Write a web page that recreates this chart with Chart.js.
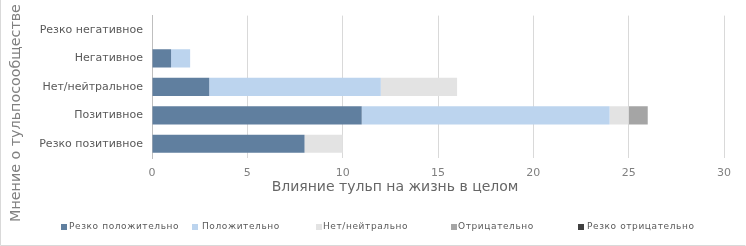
<!DOCTYPE html>
<html>
<head>
<meta charset="utf-8">
<script src="https://cdn.jsdelivr.net/npm/chart.js@4/dist/chart.umd.min.js"></script>
<style>
html,body{margin:0;padding:0;background:#fff;}
#wrap{width:746px;height:246px;position:relative;}
</style>
</head>
<body>
<div id="wrap"><canvas id="c" width="746" height="246"></canvas></div>
<script>
const categories = ["Резко негативное", "Негативное", "Нет/нейтральное", "Позитивное", "Резко позитивное"];
const seriesNames = ["Резко положительно", "Положительно", "Нет/нейтрально", "Отрицательно", "Резко отрицательно"];
const strongPositive = [0, 1, 3, 11, 8];
const positive = [0, 1, 9, 13, 0];
const neutral = [0, 0, 4, 1, 2];
const negative = [0, 0, 0, 1, 0];
const strongNegative = [0, 0, 0, 0, 0];
const xTicks = [0, 5, 10, 15, 20, 25, 30];
const xTitle = "Влияние тульп на жизнь в целом";
const yTitle = "Мнение о тульпосообществе";

const colors = ["#607f9f", "#bcd4ee", "#e3e3e3", "#a5a5a5", "#404040"];
const seriesValues = [strongPositive, positive, neutral, negative, strongNegative];

const datasets = seriesNames.map((n, i) => ({
  label: n,
  data: seriesValues[i],
  backgroundColor: colors[i],
  borderWidth: 0,
  barPercentage: 0.64,
  categoryPercentage: 1.0
}));

const legendPos = [[61, 69], [192, 202], [316, 323], [451, 458], [578, 587]];

const decor = {
  id: 'decor',
  afterDraw(chart) {
    const ctx = chart.ctx;
    ctx.save();
    // y title, sized to span the same length as in the reference
    ctx.font = '15px "DejaVu Sans"';
    const w = ctx.measureText(yTitle).width;
    const size = 15 * 218 / w;
    ctx.font = size.toFixed(2) + 'px "DejaVu Sans"';
    ctx.fillStyle = '#808080';
    ctx.textAlign = 'center';
    ctx.textBaseline = 'middle';
    ctx.translate(16, 113);
    ctx.rotate(-Math.PI / 2);
    ctx.fillText(yTitle, 0, 0);
    ctx.restore();

    ctx.save();
    ctx.fillStyle = '#666666';
    ctx.font = '14px "DejaVu Sans"';
    ctx.textAlign = 'center';
    ctx.textBaseline = 'middle';
    ctx.fillText(xTitle, 395, 187);
    ctx.restore();

    // legend
    ctx.save();
    ctx.font = '9px "DejaVu Sans"';
    try { ctx.letterSpacing = '0.6px'; } catch (e) {}
    ctx.textBaseline = 'middle';
    ctx.textAlign = 'left';
    seriesNames.forEach((n, i) => {
      const [sx, tx] = legendPos[i];
      ctx.fillStyle = colors[i];
      ctx.fillRect(sx, 224, 6, 6);
      ctx.fillStyle = '#595959';
      ctx.fillText(n, tx, 227);
    });
    ctx.restore();

    // faint outer frame
    ctx.save();
    ctx.strokeStyle = '#d9d9d9';
    ctx.lineWidth = 1;
    ctx.beginPath();
    ctx.moveTo(0.5, 0);
    ctx.lineTo(0.5, 245.5);
    ctx.lineTo(745.5, 245.5);
    ctx.stroke();
    ctx.restore();
  }
};

new Chart(document.getElementById('c'), {
  type: 'bar',
  data: { labels: categories, datasets },
  options: {
    indexAxis: 'y',
    responsive: false,
    animation: false,
    layout: { padding: { top: 10, right: 22, left: 0, bottom: 0 } },
    plugins: { legend: { display: false }, tooltip: { enabled: false } },
    scales: {
      x: {
        stacked: true,
        min: 0,
        max: 30,
        afterBuildTicks(scale) { scale.ticks = xTicks.map(v => ({ value: v })); },
        ticks: { color: '#808080', font: { family: 'DejaVu Sans', size: 11 }, padding: 9 },
        grid: { color: '#d9d9d9', drawTicks: false },
        border: { display: false },
        afterFit(scale) { scale.height = 88; }
      },
      y: {
        stacked: true,
        grid: { display: false, drawTicks: false },
        border: { display: true, color: '#bfbfbf' },
        ticks: { color: '#595959', font: { family: 'DejaVu Sans', size: 11 }, padding: 9 },
        afterFit(scale) { scale.width = 152; }
      }
    }
  },
  plugins: [decor]
});
</script>
</body>
</html>
